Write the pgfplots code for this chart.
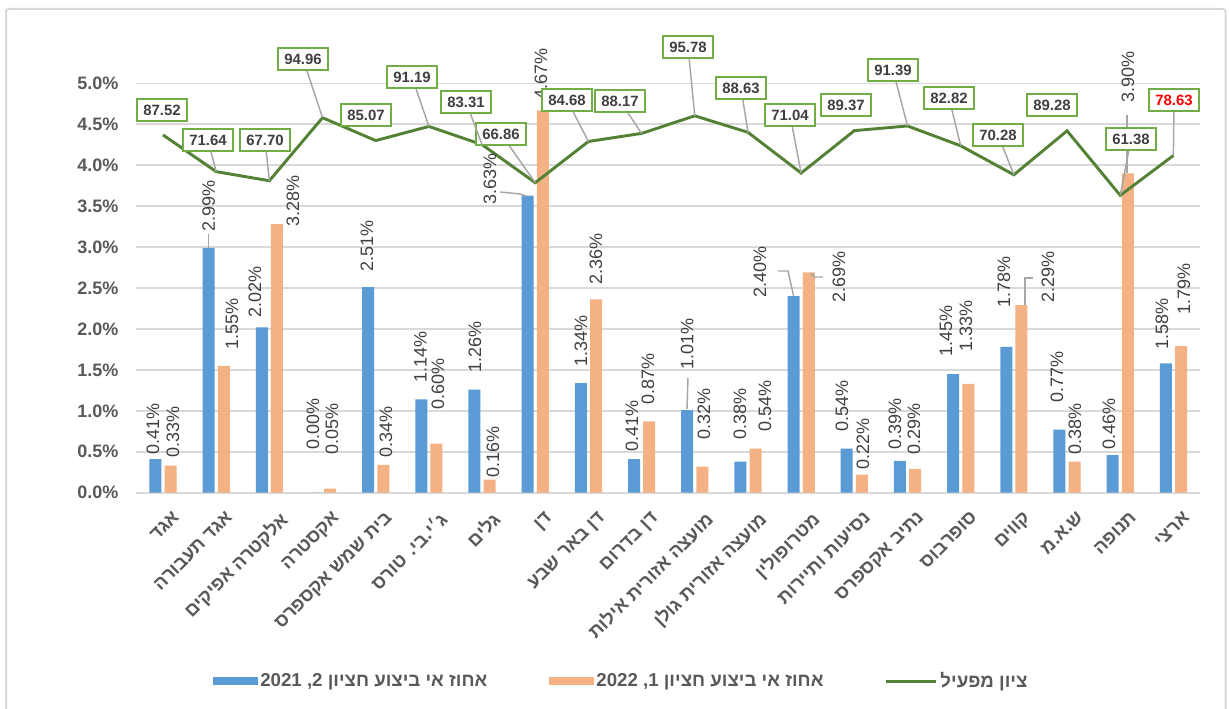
\documentclass[border=0pt]{standalone}
\usepackage{fontspec}
\setmainfont{Liberation Sans}
\newfontfamily\heb[Script=Hebrew]{Liberation Sans}
\usepackage{pgfplots}
\usepackage{pgfplotstable}
\pgfplotsset{compat=1.18}
\TeXXeTstate=1

\definecolor{cblue}{HTML}{5B9BD5}
\definecolor{corange}{HTML}{F4B183}
\definecolor{cgreen}{HTML}{548235}
\definecolor{cbox}{HTML}{70AD47}
\definecolor{cgrid}{HTML}{D9D9D9}
\definecolor{clead}{HTML}{A6A6A6}
\definecolor{ctxt}{HTML}{404040}
\definecolor{ctick}{HTML}{595959}

\newcommand{\bx}[4]{\node[box] (b#1) at (#2,#3) {#4};}
\newcommand{\bl}[3]{\node[blab] at (#1,#2) {#3\%};}

% i = company index, a = 2021 (half 2), b = 2022 (half 1)
\pgfplotstableread{
i a b
0 0.41 0.33
1 2.99 1.55
2 2.02 3.28
3 0.00 0.05
4 2.51 0.34
5 1.14 0.60
6 1.26 0.16
7 3.63 4.67
8 1.34 2.36
9 0.41 0.87
10 1.01 0.32
11 0.38 0.54
12 2.40 2.69
13 0.54 0.22
14 0.39 0.29
15 1.45 1.33
16 1.78 2.29
17 0.77 0.38
18 0.46 3.90
19 1.58 1.79
}\bars

\pgfplotstableread{
i s
0 87.52
1 71.64
2 67.70
3 94.96
4 85.07
5 91.19
6 83.31
7 66.86
8 84.68
9 88.17
10 95.78
11 88.63
12 71.04
13 89.37
14 91.39
15 82.82
16 70.28
17 89.28
18 61.38
19 78.63
}\score

\begin{document}
\begin{tikzpicture}
\begin{axis}[
  at={(102.3pt,162.2pt)}, anchor=south west,
  scale only axis, width=797.7pt, height=307.05pt,
  xmin=-0.5, xmax=19.5, ymin=0, ymax=5,
  ybar=2.4pt, bar width=9pt,
  axis line style={draw=none},
  tick style={draw=none},
  ymajorgrids, grid style={cgrid, line width=1.2pt},
  ytick={0,0.5,1,1.5,2,2.5,3,3.5,4,4.5,5},
  yticklabel={\pgfmathprintnumber[fixed,fixed zerofill,precision=1]{\tick}\%},
  /pgf/number format/assume math mode=true,
  yticklabel style={font=\bfseries\fontsize{13.5}{16}\selectfont, text=ctick, xshift=-10pt},
  xtick={0,...,19},
  xticklabels={
    {\beginR אגד\endR},
    {\beginR אגד תעבורה\endR},
    {\beginR אלקטרה אפיקים\endR},
    {\beginR אקסטרה\endR},
    {\beginR בית שמש אקספרס\endR},
    {\beginR ג׳י.בי. טורס\endR},
    {\beginR גלים\endR},
    {\beginR דן\endR},
    {\beginR דן באר שבע\endR},
    {\beginR דן בדרום\endR},
    {\beginR מועצה אזורית אילות\endR},
    {\beginR מועצה אזורית גולן\endR},
    {\beginR מטרופולין\endR},
    {\beginR נסיעות ותיירות\endR},
    {\beginR נתיב אקספרס\endR},
    {\beginR סופרבוס\endR},
    {\beginR קווים\endR},
    {\beginR ש.א.מ\endR},
    {\beginR תנופה\endR},
    {\beginR ארצי\endR}},
  xticklabel style={font=\heb\bfseries\fontsize{14}{16}\selectfont, text=ctick, rotate=45, anchor=north east, inner sep=0pt, xshift=-1.5pt, yshift=-11pt},
  clip=false,
  legend columns=3,
  legend style={draw=none, fill=none, at={(0.456,-0.46)}, anchor=center,
    font=\heb\bfseries\fontsize{14}{16}\selectfont, text=ctick,
    /tikz/every even column/.append style={column sep=44pt}},
]
\addplot[fill=cblue, draw=none, legend image code/.code={\fill[cblue] (0pt,-3pt) rectangle (33.75pt,3pt);}] table[x=i,y=a]{\bars};
\addlegendentry{\beginR אחוז אי ביצוע חציון \beginL 2\endL, \beginL 2021\endL\endR}
\addplot[fill=corange, draw=none, legend image code/.code={\fill[corange] (0pt,-3pt) rectangle (33.75pt,3pt);}] table[x=i,y=b]{\bars};
\addlegendentry{\beginR אחוז אי ביצוע חציון \beginL 1\endL, \beginL 2022\endL\endR}
\addlegendimage{legend image code/.code={\draw[cgreen, line width=2.2pt] (0pt,0pt) -- (37.5pt,0pt);}}
\addlegendentry{\beginR ציון מפעיל\endR}
\end{axis}

\begin{axis}[
  at={(102.3pt,162.2pt)}, anchor=south west,
  scale only axis, width=797.7pt, height=307.05pt,
  xmin=-0.5, xmax=19.5, ymin=-67.2, ymax=109.83,
  hide axis, clip=false,
]
\addplot[cgreen, line width=2.2pt, mark=none] table[x=i,y=s]{\score};
\pgfplotsforeachungrouped \k in {0,...,19}{%
  \pgfplotstablegetelem{\k}{s}\of\score
  \edef\tmp{\noexpand\coordinate (p\k) at (axis cs:\k,\pgfplotsretval);}%
  \tmp
}
\end{axis}

\begin{scope}[x=0.75pt, y=-0.75pt, yshift=531.75pt,
  box/.style={draw=cbox, line width=1.5pt, fill=white, text=ctxt,
    font=\bfseries\fontsize{11.2}{13}\selectfont, minimum width=37pt,
    minimum height=16.5pt, inner sep=1pt},
  blab/.style={rotate=90, anchor=west, inner sep=0pt, text=ctxt,
    font=\fontsize{13.5}{16}\selectfont},
  lead/.style={clead, line width=1.1pt}]
% chart border
\draw[cgrid, line width=1.5pt, rounded corners=2pt] (6,9) rectangle (1225.5,730);
% bar labels, 2021
\bl{153}{455}{0.41}
\bl{208.6}{232}{2.99}
\bl{255}{318}{2.02}
\bl{313}{450}{0.00}
\bl{367}{272}{2.51}
\bl{420.5}{383}{1.14}
\bl{475}{373}{1.26}
\bl{490}{205}{3.63}
\bl{580.8}{367}{1.34}
\bl{632}{452}{0.41}
\bl{687.2}{370}{1.01}
\bl{740}{440}{0.38}
\bl{760}{298}{2.40}
\bl{842}{432}{0.54}
\bl{895}{450}{0.39}
\bl{946}{357}{1.45}
\bl{1004}{308}{1.78}
\bl{1057}{403}{0.77}
\bl{1109}{450}{0.46}
\bl{1162}{350}{1.58}
% bar labels, 2022
\bl{173}{458}{0.33}
\bl{232}{350}{1.55}
\bl{293}{227}{3.28}
\bl{332}{455}{0.05}
\bl{386}{458}{0.34}
\bl{438}{410}{0.60}
\bl{493}{478}{0.16}
\bl{541}{100}{4.67}
\bl{596}{285}{2.36}
\bl{648}{405}{0.87}
\bl{704}{440}{0.32}
\bl{765}{432}{0.54}
\bl{839}{303}{2.69}
\bl{863}{470}{0.22}
\bl{914}{455}{0.29}
\bl{966}{352}{1.33}
\bl{1048}{303}{2.29}
\bl{1075}{455}{0.38}
\bl{1128}{103}{3.90}
\bl{1184}{315}{1.79}
% bar label leaders
\draw[lead] (208.6,234) -- (208.6,248);
\draw[lead] (500,192) -- (520,194) -- (526,196);
\draw[lead] (688,378) -- (687,409);
\draw[lead] (778,271) -- (788,271) -- (793.6,296);
\draw[lead] (823,277) -- (814,277) -- (811,273);
\draw[lead] (1033,278) -- (1025,278) -- (1025,305);
\draw[lead] (1127,115) -- (1127,173);
% score boxes
\bx{0}{162}{110}{87.52}
\bx{1}{208}{140}{71.64}
\bx{2}{265}{140}{67.70}
\bx{3}{303}{59}{94.96}
\bx{4}{366}{115}{85.07}
\bx{5}{412}{77}{91.19}
\bx{6}{466}{102}{83.31}
\bx{7}{501}{134}{66.86}
\bx{8}{567}{100}{84.68}
\bx{9}{620}{101}{88.17}
\bx{10}{688}{47}{95.78}
\bx{11}{741}{88}{88.63}
\bx{12}{790}{115}{71.04}
\bx{13}{846}{105}{89.37}
\bx{14}{893}{70}{91.39}
\bx{15}{949}{98}{82.82}
\bx{16}{998}{135}{70.28}
\bx{17}{1052}{105}{89.28}
\bx{18}{1131}{139}{61.38}
\node[box, text=red] (b19) at (1174,100) {78.63};
\foreach \k in {1,2,3,5,6,7,8,9,10,11,12,14,15,16,18,19}{
  \draw[lead] (b\k) -- (p\k);
}
\end{scope}
\pgfresetboundingbox
\path[use as bounding box] (0,0) rectangle (921.75pt,531.75pt);
\end{tikzpicture}
\end{document}
